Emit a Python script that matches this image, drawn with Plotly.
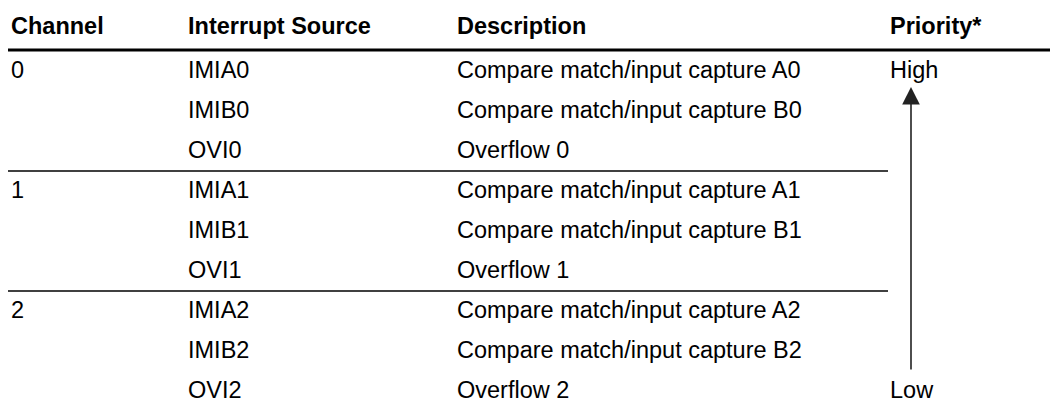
import plotly.graph_objects as go

# ---- data ----
headers = ["Channel", "Interrupt Source", "Description", "Priority*"]
channels = ["0", "", "", "1", "", "", "2", "", ""]
sources = ["IMIA0", "IMIB0", "OVI0", "IMIA1", "IMIB1", "OVI1", "IMIA2", "IMIB2", "OVI2"]
descriptions = [
    "Compare match/input capture A0",
    "Compare match/input capture B0",
    "Overflow 0",
    "Compare match/input capture A1",
    "Compare match/input capture B1",
    "Overflow 1",
    "Compare match/input capture A2",
    "Compare match/input capture B2",
    "Overflow 2",
]
priorities = ["High", "", "", "", "", "", "", "", "Low"]
group_ends = [2, 5]  # rows after which a separator line is drawn

# ---- layout constants ----
W, H = 1058, 406
PAGE_MARGIN = 8  # default body margin of the html page
col_x = [9, 186, 455, 888]
header_y = 26
row0_y = 69.5
row_h = 40
FONT = "Liberation Sans, Arial, sans-serif"
FS = 23.5

def row_y(i):
    return row0_y + row_h * i

fig = go.Figure()
fig.add_trace(go.Scatter(x=[PAGE_MARGIN, W], y=[PAGE_MARGIN, H], mode="markers",
                         marker=dict(opacity=0), hoverinfo="skip", showlegend=False))

annotations = []
for cx, h in zip(col_x, headers):
    annotations.append(dict(x=cx, y=header_y, text="<b>" + h + "</b>", showarrow=False,
                            xanchor="left", yanchor="middle", xref="x", yref="y",
                            font=dict(family=FONT, size=FS, color="#000")))

columns = [channels, sources, descriptions, priorities]
for cx, col in zip(col_x, columns):
    for i, t in enumerate(col):
        if t:
            annotations.append(dict(x=cx, y=row_y(i), text=t, showarrow=False,
                                    xanchor="left", yanchor="middle", xref="x", yref="y",
                                    font=dict(family=FONT, size=FS, color="#000")))

# priority arrow
arrow_x = 911
annotations.append(dict(x=arrow_x, y=87, ax=arrow_x, ay=371, xref="x", yref="y",
                        axref="x", ayref="y", text="", showarrow=True,
                        arrowhead=2, arrowsize=2.2, arrowwidth=1.6, arrowcolor="#222",
                        standoff=0))

shapes = [dict(type="line", x0=8, x1=W, y0=50, y1=50, xref="x", yref="y",
               line=dict(color="#000", width=3))]
for g in group_ends:
    yy = (row_y(g) + row_y(g + 1)) / 2 + 1.5
    shapes.append(dict(type="line", x0=8, x1=888, y0=yy, y1=yy, xref="x", yref="y",
                       line=dict(color="#000", width=1.6)))

fig.update_layout(
    width=W - PAGE_MARGIN, height=H - PAGE_MARGIN, margin=dict(l=0, r=0, t=0, b=0),
    paper_bgcolor="white", plot_bgcolor="white",
    xaxis=dict(range=[PAGE_MARGIN, W], visible=False, fixedrange=True),
    yaxis=dict(range=[H, PAGE_MARGIN], visible=False, fixedrange=True),
    annotations=annotations, shapes=shapes, showlegend=False,
)
fig.write_html("out.html")
